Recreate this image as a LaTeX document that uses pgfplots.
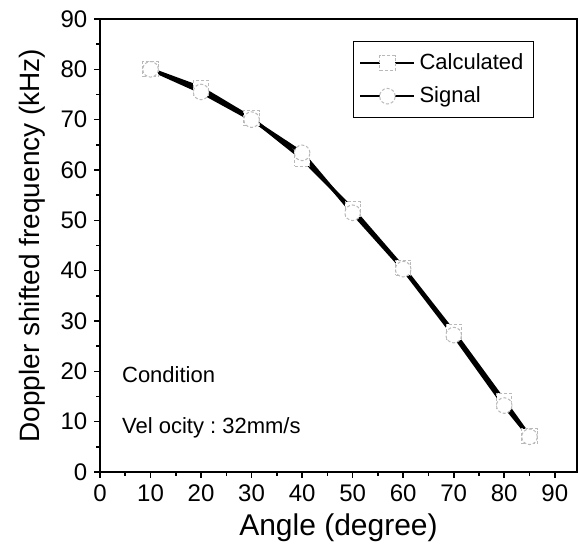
\documentclass[border=0pt]{standalone}
\usepackage{pgfplots}
\pgfplotsset{compat=1.18}
\usepackage{fontspec}
\setmainfont{Liberation Sans}
\frenchspacing
\begin{document}
\begin{tikzpicture}
\begin{axis}[
  scale only axis,
  width=238.5pt, height=226.5pt,
  xmin=0, xmax=94.4, ymin=0, ymax=90,
  xtick={0,10,...,90}, ytick={0,10,...,90},
  minor xtick={5,15,...,85}, minor ytick={5,15,...,85},
  tick pos=left, tick align=outside,
  major tick length=2.8pt, minor tick length=1.8pt,
  axis line style={line width=1pt},
  every tick/.style={line width=0.8pt, black},
  /pgf/number format/assume math mode=true,
  tick label style={font=\fontsize{12}{14}\selectfont},
  xlabel={Angle (degree)}, ylabel={Doppler shifted frequency (kHz)},
  xlabel style={font=\fontsize{15}{17}\selectfont, yshift=1pt},
  ylabel style={font=\fontsize{14}{16}\selectfont, yshift=1pt},
  legend style={at={(0.91,0.951)}, anchor=north east, draw=black, line width=0.6pt,
    font=\fontsize{11}{13}\selectfont, inner xsep=3pt, inner ysep=4pt, row sep=3pt},
  legend cell align=left,
  legend image code/.code={%
    \draw[mark repeat=2, mark phase=2, line width=1.1pt] plot coordinates {(0pt,0pt) (13.5pt,0pt) (27pt,0pt)};},
  clip=false,
]
\addplot[black, line width=1.7pt, mark=square*, mark size=3.8pt,
  mark options={fill=white, draw=gray!55, line width=0.5pt, dash pattern=on 1.5pt off 1pt}]
  coordinates {(10,80) (20,76.3) (30,70.3) (40,62.3) (50,52.2) (60,40.6) (70,27.8) (80,14.1) (85,7.1)};
\addlegendentry{Calculated}
\addplot[black, line width=1.7pt, mark=*, mark size=3.9pt,
  mark options={fill=white, draw=gray!55, line width=0.5pt, dash pattern=on 1.5pt off 1pt}]
  coordinates {(10,80) (20,75.5) (30,70) (40,63.4) (50,51.5) (60,40.3) (70,27.2) (80,13.2) (85,7)};
\addlegendentry{Signal}
\node[anchor=west, font=\fontsize{11}{13}\selectfont, inner sep=0pt] at (axis cs:4.3,19.3) {Condition};
\node[anchor=west, font=\fontsize{11}{13}\selectfont, inner sep=0pt] at (axis cs:4.3,8.7) {Vel ocity : 32mm/s};
\path (rel axis cs:0,0) ++(-50pt,-39pt) coordinate (bl);
\path (rel axis cs:1,1) ++(1.5pt,9.5pt) coordinate (tr);
\end{axis}
\path[draw=none] (bl) rectangle (tr);
\end{tikzpicture}
\end{document}
